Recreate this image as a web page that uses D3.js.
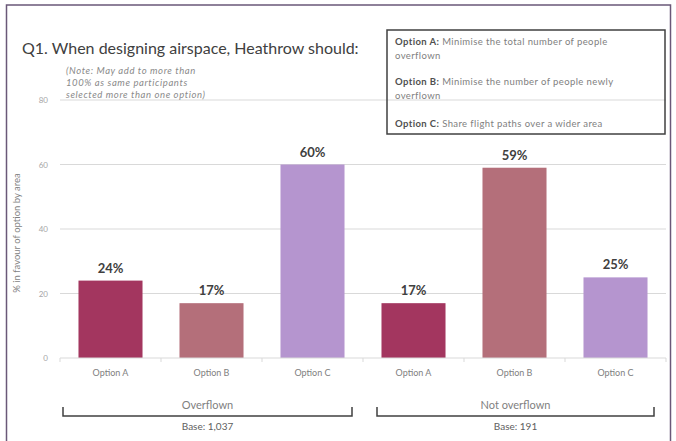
<!DOCTYPE html>
<html><head><meta charset="utf-8">
<script src="https://cdn.jsdelivr.net/npm/d3@7"></script>
<style>
html,body{margin:0;padding:0;background:#fff;}
svg{display:block;}
text{font-family:Lato,"Open Sans",sans-serif;}
</style></head>
<body>
<script>
const groups = ["Overflown", "Not overflown"];
const bases = ["Base: 1,037", "Base: 191"];
const options = ["Option A", "Option B", "Option C"];
const overflownValues = [24, 17, 60];
const notOverflownValues = [17, 59, 25];
const yTicks = [0, 20, 40, 60, 80];
const title = "Q1. When designing airspace, Heathrow should:";
const noteLines = ["(Note: May add to more than", "100% as same participants", "selected more than one option)"];
const legendItems = [
  ["Option A:", " Minimise the total number of people", "overflown"],
  ["Option B:", " Minimise the number of people newly", "overflown"],
  ["Option C:", " Share flight paths over a wider area", ""]
];
const yTitle = "% in favour of option by area";
const colors = ["#a3365f", "#b46f7a", "#b595cf"];

const W = 676, H = 441;
const svg = d3.select("body").append("svg").attr("width", W).attr("height", H);

// outer frame
svg.append("rect").attr("x", 6.5).attr("y", 5).attr("width", 664).attr("height", 440)
  .attr("fill", "none").attr("stroke", "#6a5878").attr("stroke-width", 1.5);

const data = [];
[overflownValues, notOverflownValues].forEach((vals, gi) => {
  vals.forEach((v, i) => data.push({group: groups[gi], gi, option: options[i], oi: i, value: v, key: gi + "-" + i}));
});

const x = d3.scaleBand().domain(data.map(d => d.key)).range([60, 666])
  .paddingInner(0.366).paddingOuter(0.183);
const y = d3.scaleLinear().domain([0, 80]).range([358, 100]);

// gridlines
svg.append("g").selectAll("line").data(yTicks.filter(t => t > 0)).join("line")
  .attr("x1", 60).attr("x2", 666).attr("y1", d => y(d)).attr("y2", d => y(d))
  .attr("stroke", "#d9d9d9").attr("stroke-width", 1);

// y tick labels
svg.append("g").selectAll("text").data(yTicks).join("text")
  .attr("x", 48).attr("y", d => y(d) + 3).attr("text-anchor", "end")
  .attr("font-size", 8).attr("fill", "#a6a6a6").text(d => d);

// y title
svg.append("text").attr("transform", "translate(20,233) rotate(-90)")
  .attr("text-anchor", "middle").attr("font-size", 9.5).attr("fill", "#7f7f7f").text(yTitle);

// bars
svg.append("g").selectAll("rect").data(data).join("rect")
  .attr("x", d => x(d.key)).attr("width", x.bandwidth())
  .attr("y", d => y(d.value)).attr("height", d => y(0) - y(d.value))
  .attr("fill", d => colors[d.oi]);

// value labels
svg.append("g").selectAll("text").data(data).join("text")
  .attr("x", d => x(d.key) + x.bandwidth() / 2).attr("y", d => y(d.value) - 8)
  .attr("text-anchor", "middle").attr("font-size", 13).attr("font-weight", "bold")
  .attr("fill", "#404040").text(d => d.value + "%");

// x axis baseline
svg.append("line").attr("x1", 60).attr("x2", 666).attr("y1", y(0)).attr("y2", y(0))
  .attr("stroke", "#d9d9d9").attr("stroke-width", 1);
const step = x.step();
const tickXs = d3.range(7).map(i => 60 + i * step);
svg.append("g").selectAll("line").data(tickXs).join("line")
  .attr("x1", d => d).attr("x2", d => d).attr("y1", y(0)).attr("y2", y(0) + 4)
  .attr("stroke", "#d9d9d9");

// category labels
svg.append("g").selectAll("text").data(data).join("text")
  .attr("x", d => x(d.key) + x.bandwidth() / 2).attr("y", 376)
  .attr("text-anchor", "middle").attr("font-size", 9).attr("fill", "#808080").text(d => d.option);

// group brackets
const insetL = [3, 14], insetR = [11, 12];
groups.forEach((g, gi) => {
  const gStart = x(gi + "-0") - x.step() * x.paddingOuter();
  const gEnd = gStart + 3 * x.step();
  const l = gStart + insetL[gi], r = gEnd - insetR[gi];
  const cx = (l + r) / 2;
  svg.append("path")
    .attr("d", `M${l},407 V416 H${r} V407`)
    .attr("fill", "none").attr("stroke", "#404040").attr("stroke-width", 1.5);
  svg.append("text").attr("x", cx).attr("y", 409).attr("text-anchor", "middle")
    .attr("font-size", 11).attr("fill", "#7f7f7f").text(g);
  svg.append("text").attr("x", cx).attr("y", 430).attr("text-anchor", "middle")
    .attr("font-size", 10).attr("fill", "#606060").text(bases[gi]);
});

// title
svg.append("text").attr("x", 22).attr("y", 54).attr("font-size", 16)
  .attr("fill", "#404040").text(title);

// note
svg.append("g").selectAll("text").data(noteLines).join("text")
  .attr("x", 66).attr("y", (d, i) => 74 + i * 12)
  .attr("font-size", 9.5).attr("letter-spacing", 0.6).attr("font-style", "italic")
  .attr("fill", "#8a8a8a").text(d => d);

// legend box
svg.append("rect").attr("x", 387).attr("y", 30).attr("width", 278).attr("height", 104)
  .attr("fill", "none").attr("stroke", "#404040").attr("stroke-width", 1.5);
const lg = svg.append("g");
const legendY = [45, 85, 127];
legendItems.forEach((it, i) => {
  const ty = legendY[i];
  const t = lg.append("text").attr("x", 395).attr("y", ty).attr("font-size", 9.5)
    .attr("letter-spacing", 0.4).attr("fill", "#808080");
  t.append("tspan").attr("font-weight", "bold").attr("fill", "#505050").text(it[0]);
  t.append("tspan").text(it[1]);
  if (it[2]) lg.append("text").attr("x", 395).attr("y", ty + 14).attr("font-size", 9.5)
    .attr("letter-spacing", 0.4).attr("fill", "#808080").text(it[2]);
});
</script>
</body></html>
